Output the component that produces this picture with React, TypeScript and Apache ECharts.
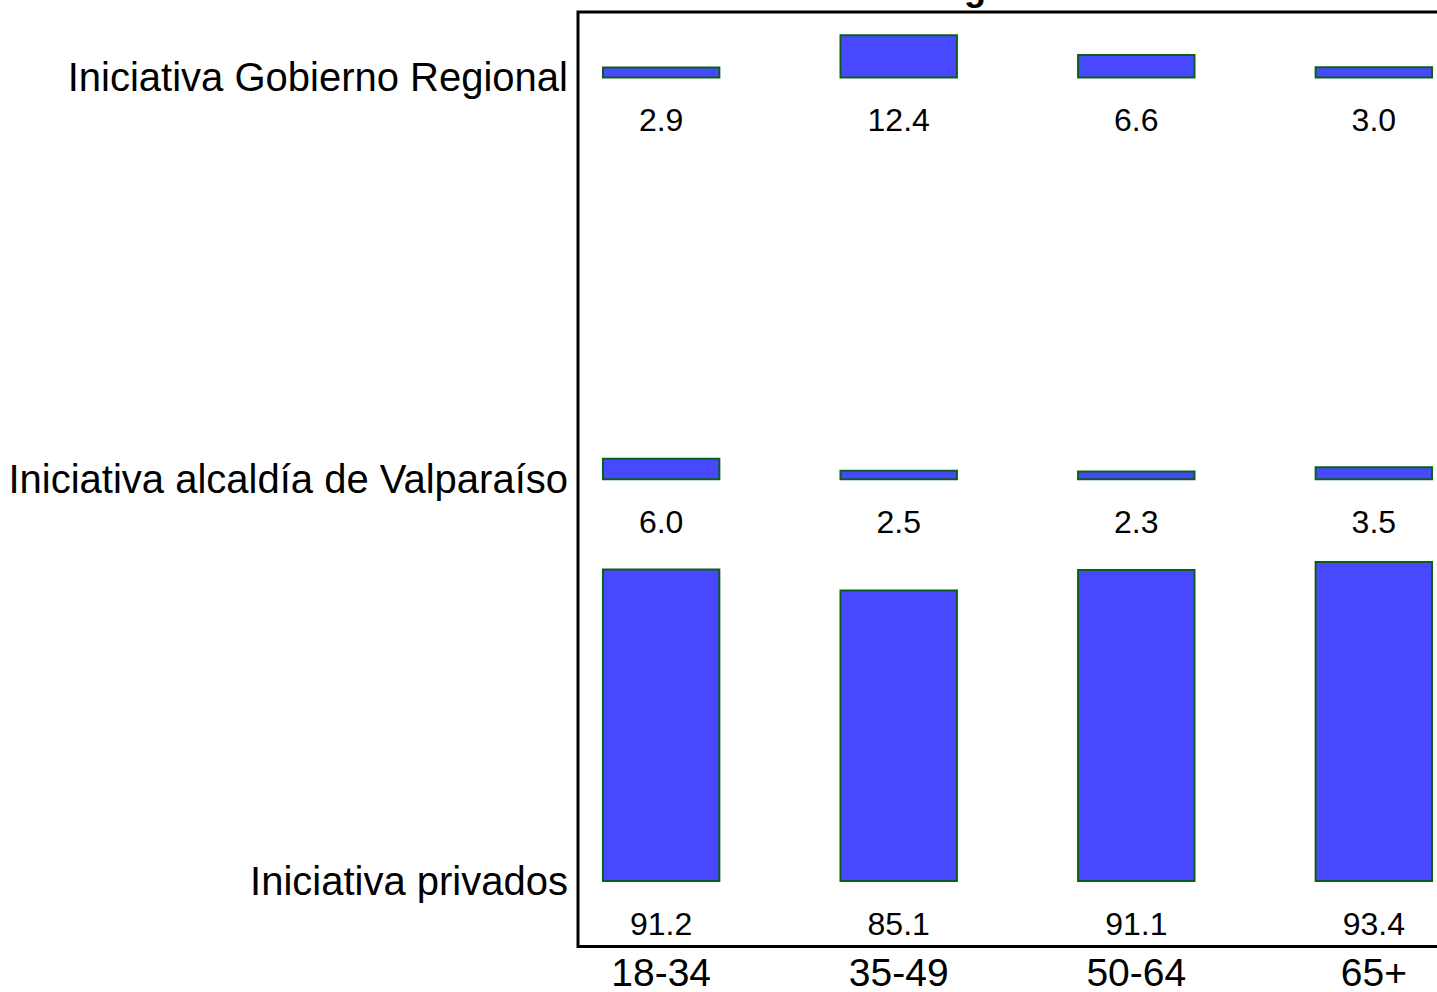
import React, { useEffect, useRef } from "react";
import * as echarts from "echarts";

const ageGroups = ["18-34", "35-49", "50-64", "65+"];
// rows from bottom (1) to top (3)
const initiatives = [
  "Iniciativa privados",
  "Iniciativa alcaldía de Valparaíso",
  "Iniciativa Gobierno Regional",
];
const privados = [91.2, 85.1, 91.1, 93.4];
const alcaldia = [6.0, 2.5, 2.3, 3.5];
const gobierno = [2.9, 12.4, 6.6, 3.0];
const titleText = "Iniciativa según edad";

const FONT = "'Liberation Sans', Arial, Helvetica, sans-serif";
const BAR_SCALE = 0.0085; // row units per percentage point
const HALF = 0.245; // half bar width in x units

export default function App() {
  const ref = useRef<HTMLDivElement>(null);
  useEffect(() => {
    if (!ref.current) return;
    const chart = echarts.init(ref.current, undefined, { renderer: "svg" });
    const rows = [privados, alcaldia, gobierno];
    const data: number[][] = [];
    rows.forEach((vals, r) => {
      vals.forEach((v, i) => data.push([i + 1, r + 1, v]));
    });
    chart.setOption({
      animation: false,
      backgroundColor: "#ffffff",
      grid: {
        left: 578,
        right: 0,
        top: 12,
        bottom: 45,
        show: true,
        borderColor: "#000",
        borderWidth: 3,
        backgroundColor: "transparent",
      },
      graphic: [
        {
          type: "text",
          x: 760,
          y: 5,
          style: {
            text: titleText,
            font: `bold 36px ${FONT}`,
            fill: "#000",
            align: "left",
            verticalAlign: "bottom",
          },
        },
      ],
      xAxis: {
        type: "value",
        min: 0.65,
        max: 4.35,
        axisLine: { show: false },
        axisTick: { show: false },
        splitLine: { show: false },
        axisLabel: {
          customValues: [1, 2, 3, 4],
          formatter: (v: number) => ageGroups[Math.round(v) - 1] ?? "",
          fontSize: 39,
          lineHeight: 32,
          fontFamily: FONT,
          color: "#000",
          margin: 10,
        },
      },
      yAxis: {
        type: "value",
        min: 0.837,
        max: 3.163,
        axisLine: { show: false },
        axisTick: { show: false },
        splitLine: { show: false },
        axisLabel: {
          customValues: [1, 2, 3],
          formatter: (v: number) => initiatives[Math.round(v) - 1] ?? "",
          fontSize: 40,
          fontFamily: FONT,
          color: "#000",
          margin: 10,
          padding: [6, 0, 0, 0],
        },
      },
      series: [
        {
          type: "custom",
          data,
          renderItem: (params: any, api: any) => {
            const x = api.value(0);
            const row = api.value(1);
            const v = api.value(2);
            const p0 = api.coord([x - HALF, row]);
            const p1 = api.coord([x + HALF, row + v * BAR_SCALE]);
            const c = api.coord([x, row]);
            return {
              type: "group",
              children: [
                {
                  type: "rect",
                  shape: {
                    x: p0[0],
                    y: p1[1],
                    width: p1[0] - p0[0],
                    height: p0[1] - p1[1],
                  },
                  style: { fill: "#4848ff", stroke: "#0b5e1c", lineWidth: 2 },
                },
                {
                  type: "text",
                  style: {
                    text: v.toFixed(1),
                    x: c[0],
                    y: c[1] + 43,
                    align: "center",
                    verticalAlign: "middle",
                    font: `32px ${FONT}`,
                    fill: "#000",
                  },
                },
              ],
            };
          },
        },
      ],
    });
    return () => chart.dispose();
  }, []);
  return (
    <div
      style={{
        position: "fixed",
        left: 0,
        top: 0,
        width: 1437,
        height: 992,
        overflow: "hidden",
        background: "#fff",
      }}
    >
      <div ref={ref} style={{ width: 1457, height: 992 }} />
    </div>
  );
}
